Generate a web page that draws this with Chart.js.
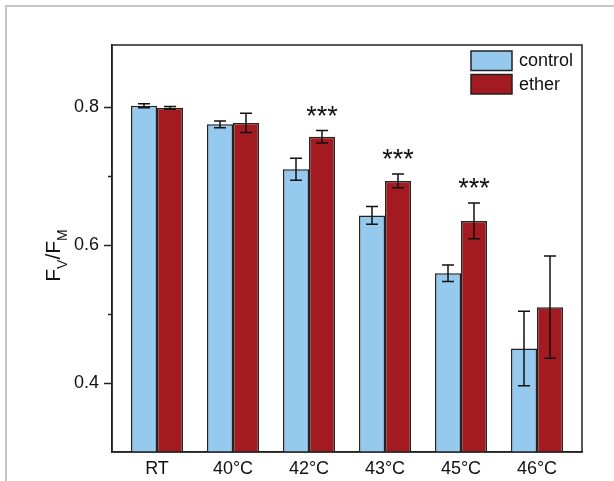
<!DOCTYPE html>
<html>
<head>
<meta charset="utf-8">
<script src="https://cdn.jsdelivr.net/npm/chart.js@4.4.1/dist/chart.umd.min.js"></script>
<style>
  body { margin: 0; background: #fff; }
  #wrap { position: relative; width: 614px; height: 481px; overflow: hidden; }
  #frame { position: absolute; left: 5px; top: 5px; right: -5px; bottom: -5px;
           border-left: 2px solid #c6c6c6; border-top: 2px solid #c6c6c6; }
  canvas { position: absolute; left: 0; top: 0; }
</style>
</head>
<body>
<div id="wrap">
  <div id="frame"></div>
  <canvas id="chart" width="614" height="481"></canvas>
</div>
<script>
// values
const categories = ['RT', '40°C', '42°C', '43°C', '45°C', '46°C'];
const controlValues = [0.802, 0.775, 0.710, 0.643, 0.559, 0.450];
const controlErrors = [0.003, 0.005, 0.016, 0.013, 0.012, 0.054];
const etherValues = [0.799, 0.777, 0.757, 0.693, 0.635, 0.510];
const etherErrors = [0.002, 0.014, 0.009, 0.010, 0.026, 0.074];
const significance = ['', '', '***', '***', '***', ''];
const yTicks = [0.4, 0.5, 0.6, 0.7, 0.8];

const FONT = "'Liberation Sans', Arial, sans-serif";
const INK = '#222';

const toPoints = vals => vals.map((v, i) => ({ x: i, y: v }));

// error bars + stars + frame + legend + y title
const extras = {
    id: 'extras',
    afterDatasetsDraw(chart) {
        const ctx = chart.ctx;
        const ys = chart.scales.y;
        const area = chart.chartArea;
        const errs = [controlErrors, etherErrors];
        const vals = [controlValues, etherValues];

        ctx.save();
        ctx.strokeStyle = '#111';
        ctx.lineWidth = 1.5;
        chart.data.datasets.forEach((ds, d) => {
            chart.getDatasetMeta(d).data.forEach((bar, i) => {
                const top = ys.getPixelForValue(vals[d][i] + errs[d][i]);
                const bot = ys.getPixelForValue(vals[d][i] - errs[d][i]);
                ctx.beginPath();
                ctx.moveTo(bar.x, top); ctx.lineTo(bar.x, bot);
                ctx.moveTo(bar.x - 6, top); ctx.lineTo(bar.x + 6, top);
                ctx.moveTo(bar.x - 6, bot); ctx.lineTo(bar.x + 6, bot);
                ctx.stroke();
            });
        });

        // significance stars over the ether bars
        ctx.fillStyle = '#111';
        ctx.font = '27px ' + FONT;
        ctx.textAlign = 'center';
        ctx.textBaseline = 'alphabetic';
        chart.getDatasetMeta(1).data.forEach((bar, i) => {
            if (!significance[i]) return;
            const top = ys.getPixelForValue(etherValues[i] + etherErrors[i]);
            ctx.fillText(significance[i], bar.x, top - 6);
        });

        // box around plot
        ctx.strokeStyle = INK;
        ctx.lineWidth = 1.5;
        ctx.strokeRect(area.left, area.top, area.right - area.left, area.bottom - area.top);

        // legend
        ctx.font = '18px ' + FONT;
        ctx.textAlign = 'left';
        ctx.textBaseline = 'middle';
        chart.data.datasets.forEach((ds, d) => {
            const bx = area.right - 111;
            const by = area.top + 6 + d * 23.5;
            ctx.fillStyle = ds.backgroundColor;
            ctx.fillRect(bx, by, 41, 19.5);
            ctx.strokeStyle = INK;
            ctx.lineWidth = 1.5;
            ctx.strokeRect(bx, by, 41, 19.5);
            ctx.fillStyle = '#111';
            ctx.fillText(ds.label, bx + 48, by + 10.5);
        });

        // y axis title F_V/F_M
        const parts = [['F', false], ['V', true], ['/F', false], ['M', true]];
        const big = '21px ' + FONT, small = '14px ' + FONT;
        let total = 0;
        parts.forEach(p => { ctx.font = p[1] ? small : big; total += ctx.measureText(p[0]).width; });
        ctx.translate(60, (area.top + area.bottom) / 2 + 7);
        ctx.rotate(-Math.PI / 2);
        ctx.textAlign = 'left';
        ctx.textBaseline = 'alphabetic';
        let x = -total / 2;
        parts.forEach(p => {
            ctx.font = p[1] ? small : big;
            ctx.fillText(p[0], x, p[1] ? 7 : 0);
            x += ctx.measureText(p[0]).width;
        });
        ctx.restore();
    }
};

new Chart(document.getElementById('chart'), {
    type: 'bar',
    data: {
        datasets: [{
            label: 'control',
            data: toPoints(controlValues),
            backgroundColor: '#95caee',
            borderColor: INK,
            borderWidth: 1.5
        }, {
            label: 'ether',
            data: toPoints(etherValues),
            backgroundColor: '#a31b21',
            borderColor: INK,
            borderWidth: 1.5
        }]
    },
    options: {
        responsive: false,
        animation: false,
        devicePixelRatio: 1,
        categoryPercentage: 0.684,
        barPercentage: 1,
        layout: { padding: { left: 0, top: 45, right: 32, bottom: 0 } },
        plugins: { legend: { display: false }, tooltip: { enabled: false } },
        scales: {
            x: {
                type: 'linear',
                offset: false,
                min: -0.592,
                max: 5.592,
                afterBuildTicks: s => { s.ticks = categories.map((c, i) => ({ value: i })); },
                afterFit: s => { s.height = 29; },
                ticks: {
                    callback: v => categories[v],
                    font: { size: 18, family: FONT },
                    color: '#111',
                    padding: 6,
                    maxRotation: 0
                },
                grid: { display: false, drawTicks: false, offset: false },
                border: { color: INK, width: 1.5 }
            },
            y: {
                min: 0.3,
                max: 0.89,
                afterBuildTicks: s => { s.ticks = yTicks.map(v => ({ value: v })); },
                afterFit: s => { s.width = 112; },
                ticks: {
                    callback: v => (Math.round(v * 10) % 2 === 0 ? v.toFixed(1) : ''),
                    font: { size: 18, family: FONT },
                    color: '#111',
                    padding: 5
                },
                grid: {
                    drawOnChartArea: false,
                    tickLength: 8,
                    tickWidth: 1.5,
                    tickColor: INK,
                    tickBorderDash: c => (Math.round(c.tick.value * 10) % 2 === 0 ? [] : [0, 4, 4, 20])
                },
                border: { color: INK, width: 1.5 }
            }
        }
    },
    plugins: [extras]
});
</script>
</body>
</html>
